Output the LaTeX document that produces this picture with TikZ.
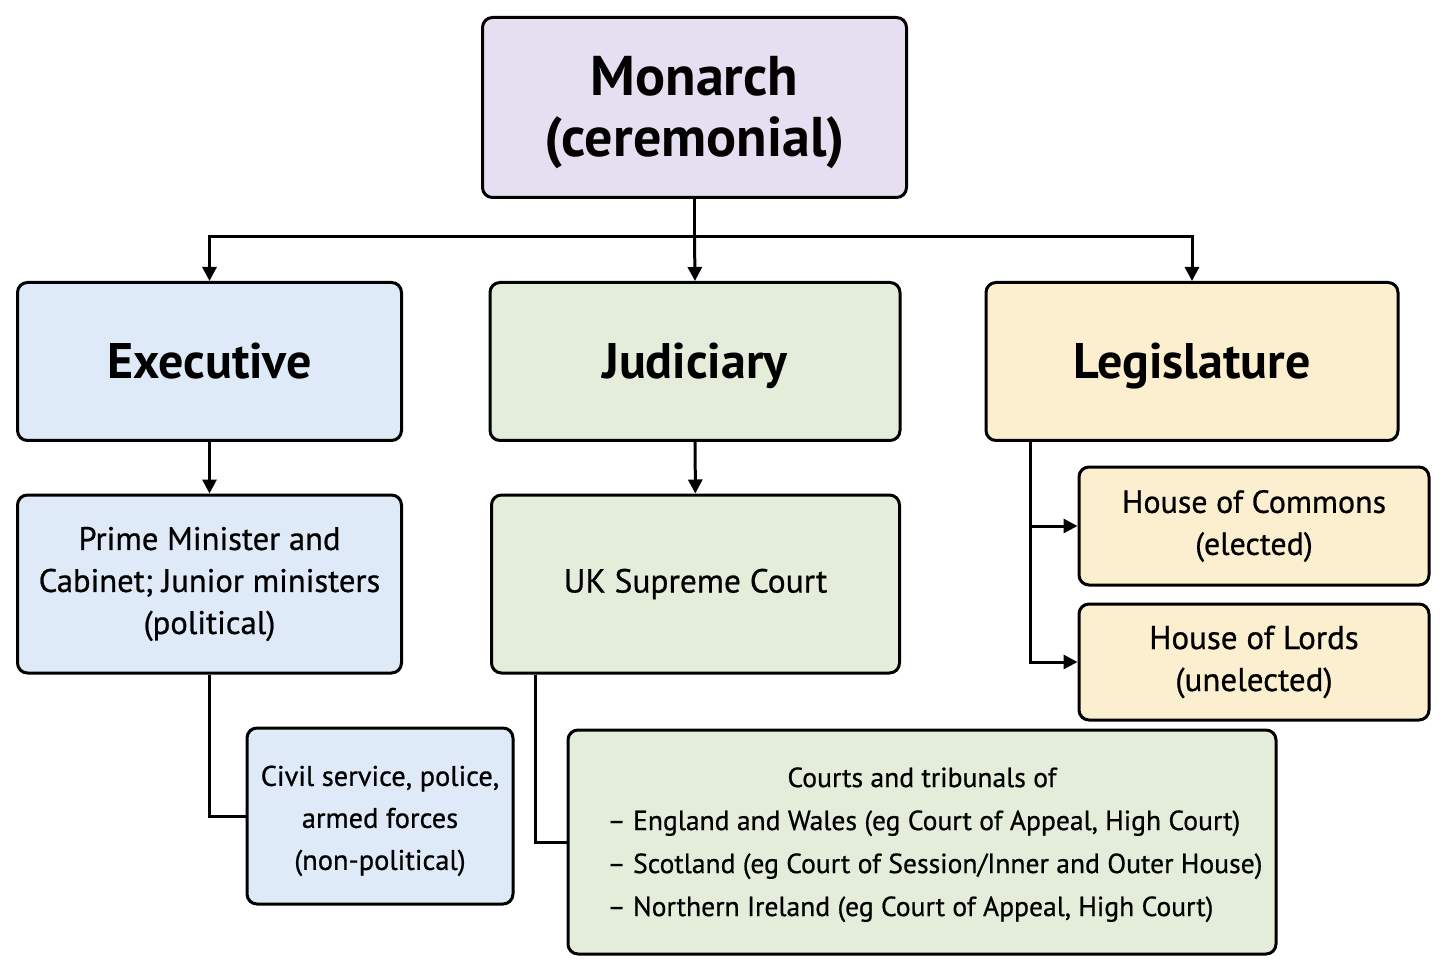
\documentclass[tikz,border=0pt]{standalone}
\usepackage{fontspec}
\setmainfont{PT Sans}
\newfontfamily\medfont[FakeBold=0.7,Ligatures=TeX]{PT Sans}
\usetikzlibrary{arrows.meta}
\definecolor{monarchfill}{HTML}{E6DFF1}
\definecolor{execfill}{HTML}{DEEAF7}
\definecolor{judfill}{HTML}{E3EDDA}
\definecolor{legfill}{HTML}{FCEFCF}
\tikzset{
  box/.style={draw, line width=1.5pt, rounded corners=5pt, align=center, inner sep=2pt},
  title/.style={box, text height=17pt, text depth=0pt, font=\fontsize{25}{30}\selectfont\bfseries},
  body/.style={box, font=\fontsize{16.3}{21}\medfont},
  link/.style={line width=1.5pt},
  arr/.style={link, -{Triangle[length=7pt,width=7pt]}}
}
\begin{document}
\begin{tikzpicture}[x=0.5pt,y=-0.5pt]
\useasboundingbox[fill=white] (0,0) rectangle (1447,973);
% top
\node[box, fill=monarchfill, minimum width=212pt, minimum height=90pt,
  font=\fontsize{28}{30.5}\selectfont\bfseries] (monarch) at (694.5,107.5) {\rule{0pt}{25pt}Monarch\\(ceremonial)};
% three branches
\node[title, fill=execfill, minimum width=192pt, minimum height=79pt] (exec) at (209.5,361.5) {Executive};
\node[title, fill=judfill, minimum width=205pt, minimum height=79pt] (jud) at (695,361.5) {Judiciary};
\node[title, fill=legfill, minimum width=206pt, minimum height=79pt] (leg) at (1192,361.5) {Legislature};
% second level
\node[body, fill=execfill, minimum width=192pt, minimum height=89pt] (pm) at (209.5,584) {Prime Minister and\\Cabinet; Junior ministers\\(political)};
\node[body, fill=judfill, minimum width=204pt, minimum height=89pt,
  font=\fontsize{16.7}{21}\medfont] (supreme) at (695.5,584) {UK Supreme Court};
\node[body, fill=legfill, minimum width=175pt, minimum height=59pt,
  font=\fontsize{16}{21}\medfont] (commons) at (1254,526) {House of Commons\\(elected)};
\node[body, fill=legfill, minimum width=175pt, minimum height=58pt,
  font=\fontsize{16.5}{21}\medfont] (lords) at (1254,662) {House of Lords\\(unelected)};
% third level
\node[body, fill=execfill, minimum width=133pt, minimum height=88pt,
  font=\fontsize{14.2}{21}\medfont] (civil) at (380,816) {\rule{0pt}{15pt}Civil service, police,\\armed forces\\(non-political)};
\node[body, fill=judfill, minimum width=354pt, minimum height=112pt,
  font=\fontsize{13.8}{21.5}\medfont] (courts) at (922,842) {\rule{0pt}{16pt}Courts and tribunals of\\
  \def\arraystretch{1.0}\begin{tabular}[t]{@{\hspace{13pt}}l@{}}
  -- England and Wales (eg Court of Appeal, High Court)\\
  -- Scotland (eg Court of Session/Inner and Outer House)\\
  -- Northern Ireland (eg Court of Appeal, High Court)
  \end{tabular}};
% connectors
\coordinate (split) at (694.5,237);
\draw[link] (monarch.south) -- (split);
\draw[arr] (split) -| (exec.north);
\draw[arr] (split) -- (jud.north);
\draw[arr] (split) -| (leg.north);
\draw[arr] (exec) -- (pm);
\draw[arr] (jud) -- (supreme);
\coordinate (legtrunk) at (1030,441);
\draw[arr] (legtrunk) |- (commons.west);
\draw[arr] (legtrunk) |- (lords.west);
\draw[link] (pm.south) |- (civil.west);
\draw[link] (supreme.south west) ++(45,0) |- (courts.west);
\end{tikzpicture}
\end{document}
